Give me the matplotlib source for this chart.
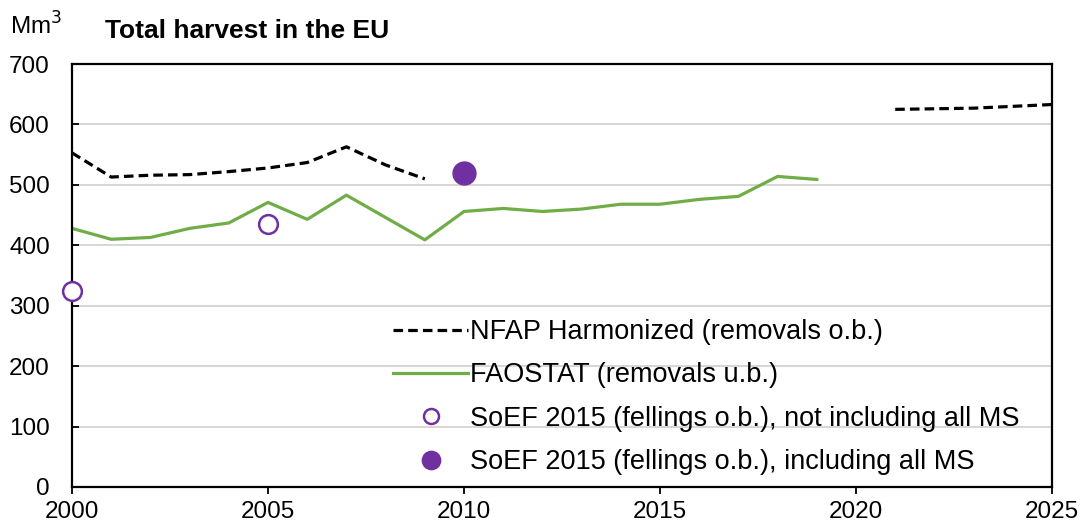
import matplotlib
matplotlib.use("Agg")
import matplotlib.pyplot as plt

plt.rcParams['font.family'] = ['Liberation Sans', 'DejaVu Sans']

nfap_years_a = [2000, 2001, 2002, 2003, 2004, 2005, 2006, 2007, 2008, 2009]
nfap_vals_a = [553, 513, 516, 517, 522, 528, 537, 563, 533, 510]
nfap_years_b = [2021, 2022, 2023, 2024, 2025]
nfap_vals_b = [625, 626, 627, 630, 633]

fao_years = list(range(2000, 2020))
fao_vals = [428, 410, 413, 428, 437, 471, 443, 483, 446, 409,
            456, 461, 456, 460, 468, 468, 476, 481, 514, 509]

soef_open_years = [2000, 2005]
soef_open_vals = [324, 435]
soef_fill_years = [2010]
soef_fill_vals = [520]

labels = ["NFAP Harmonized (removals o.b.)",
          "FAOSTAT (removals u.b.)",
          "SoEF 2015 (fellings o.b.), not including all MS",
          "SoEF 2015 (fellings o.b.), including all MS"]

green = "#70AD47"
purple = "#7030A0"

fig = plt.figure(figsize=(10.83, 5.25), dpi=100)
ax = fig.add_axes([0.0665, 0.0724, 0.9049, 0.8056])

l1, = ax.plot(nfap_years_a, nfap_vals_a, color="black", lw=2.3, ls=(0, (3, 1.6)), label=labels[0])
ax.plot(nfap_years_b, nfap_vals_b, color="black", lw=2.3, ls=(0, (3, 1.6)))
l2, = ax.plot(fao_years, fao_vals, color=green, lw=2.3, label=labels[1])
l3, = ax.plot(soef_open_years, soef_open_vals, ls="none", marker="o", ms=13.5,
              mfc="white", mec=purple, mew=1.8, label=labels[2], clip_on=False, zorder=5)
l4, = ax.plot(soef_fill_years, soef_fill_vals, ls="none", marker="o", ms=16.5,
              mfc=purple, mec=purple, label=labels[3], zorder=5)

ax.set_xlim(2000, 2025)
ax.set_ylim(0, 700)
ax.set_xticks([2000, 2005, 2010, 2015, 2020, 2025])
ax.set_yticks(range(0, 701, 100))
ax.yaxis.grid(True, color="#d0d0d0", lw=1.2)
ax.set_axisbelow(True)
for s in ax.spines.values():
    s.set_color("black")
    s.set_linewidth(1.6)
ax.tick_params(axis='both', labelsize=17.5, length=5, width=1.3, colors="black")
ax.tick_params(axis='y', direction='in', pad=16)
ax.tick_params(axis='x', direction='out', pad=5)

fig.text(0.009, 0.934, "Mm$^3$", fontsize=17.5, ha="left", va="baseline")
fig.text(0.097, 0.9276, "Total harvest in the EU", fontsize=19, fontweight="bold",
         ha="left", va="baseline")

leg = ax.legend(handles=[l1, l2, l3, l4], loc="upper left", bbox_to_anchor=(0.3276, 0.397),
                frameon=False, fontsize=19.5, handlelength=2.77, handletextpad=0.08,
                labelspacing=0.64, borderaxespad=0, borderpad=0, markerscale=0.8)

fig.savefig("out.png", dpi=100)
